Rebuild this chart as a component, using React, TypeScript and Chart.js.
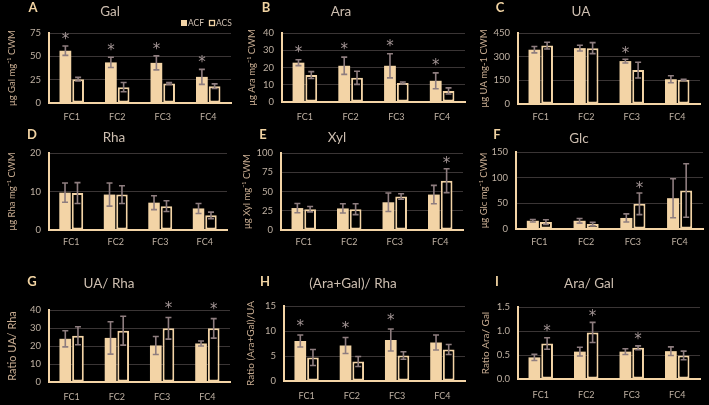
import React, { useEffect, useRef } from 'react';
import { Chart, registerables } from 'chart.js';

Chart.register(...registerables);

const FONT = 'Lato, "Open Sans", "DejaVu Sans", sans-serif';
Chart.defaults.font.family = FONT;

const BEIGE = '#F3D4A6';
const ERR = '#8E7D7F';
const STAR = '#A39595';
const TICK = '#BFB1A3';
const YTITLE = '#C9AD92';
const TITLE = '#CDBEB0';
const LETTER = '#F1D3A2';
const GRID = '#3A3535';

// ---------------- data ----------------
const categories = ['FC1', 'FC2', 'FC3', 'FC4'];
const seriesNames = ['ACF', 'ACS'];

// A  Gal
const galAcf = [56, 43.5, 43, 28];
const galAcfSd = [5, 5.5, 7.5, 8];
const galAcs = [25.5, 17, 21, 18];
const galAcsSd = [2, 5, 1, 2.5];
const galAcfStar = [true, true, true, true];
const galAcsStar = [false, false, false, false];
const galTicks = [0, 25, 50, 75];

// B  Ara
const araAcf = [22.8, 21, 21, 12.3];
const araAcfSd = [1.7, 5, 7, 4.6];
const araAcs = [15.6, 14, 11, 6.4];
const araAcsSd = [2, 3.8, 0.6, 1.8];
const araAcfStar = [true, true, true, true];
const araAcsStar = [false, false, false, false];
const araTicks = [0, 10, 20, 30, 40];

// C  UA
const uaAcf = [344, 354, 272, 157];
const uaAcfSd = [20, 18, 12, 22];
const uaAcs = [370, 354, 215, 153];
const uaAcsSd = [21, 35, 50, 4];
const uaAcfStar = [false, false, true, false];
const uaAcsStar = [false, false, false, false];
const uaTicks = [0, 150, 300, 450];

// D  Rha
const rhaAcf = [9.7, 9.2, 7.1, 5.6];
const rhaAcfSd = [2.5, 3, 1.8, 1.3];
const rhaAcs = [9.6, 9.2, 6.2, 3.8];
const rhaAcsSd = [2.7, 2.3, 1.4, 0.85];
const rhaAcfStar = [false, false, false, false];
const rhaAcsStar = [false, false, false, false];
const rhaTicks = [0, 10, 20];

// E  Xyl
const xylAcf = [28.5, 28, 36, 46];
const xylAcfSd = [6, 6, 12, 12];
const xylAcs = [27, 27, 43.5, 64];
const xylAcsSd = [3.5, 7, 3.5, 15.5];
const xylAcfStar = [false, false, false, false];
const xylAcsStar = [false, false, false, true];
const xylTicks = [0, 25, 50, 75, 100];

// F  Glc
const glcAcf = [16, 16, 21.5, 60];
const glcAcfSd = [2.5, 4.5, 8, 38];
const glcAcs = [13.5, 9.5, 49, 75];
const glcAcsSd = [4.5, 3.5, 21, 52];
const glcAcfStar = [false, false, false, false];
const glcAcsStar = [false, false, true, false];
const glcTicks = [0, 50, 100, 150];

// G  UA/Rha
const uaRhaAcf = [24, 24.5, 20.3, 21.4];
const uaRhaAcfSd = [4.5, 9, 5, 1.4];
const uaRhaAcs = [25.7, 28.5, 29.8, 29.8];
const uaRhaAcsSd = [5, 8, 6, 5.4];
const uaRhaAcfStar = [false, false, false, false];
const uaRhaAcsStar = [false, false, true, true];
const uaRhaTicks = [0, 10, 20, 30, 40];

// H  (Ara+Gal)/Rha
const agRhaAcf = [8, 7.1, 8.2, 7.7];
const agRhaAcfSd = [1.2, 1.6, 2.2, 1.5];
const agRhaAcs = [4.7, 3.9, 5.1, 6.3];
const agRhaAcsSd = [1.6, 1, 0.75, 1];
const agRhaAcfStar = [true, true, true, false];
const agRhaAcsStar = [false, false, false, false];
const agRhaTicks = [0, 5, 10, 15];

// I  Ara/Gal
const araGalAcf = [0.45, 0.57, 0.57, 0.58];
const araGalAcfSd = [0.065, 0.09, 0.06, 0.09];
const araGalAcs = [0.74, 0.97, 0.65, 0.49];
const araGalAcsSd = [0.12, 0.21, 0.04, 0.09];
const araGalAcfStar = [false, false, false, false];
const araGalAcsStar = [true, true, true, false];
const araGalTicks = [0, 0.5, 1.0, 1.5];

// ---------------- panel layout ----------------
type Rect = { x: number; y: number; w: number; h: number };
type Area = { l: number; t: number; r: number; b: number };
type PanelCfg = {
  letter: string;
  title: string;
  yTitle: string;
  acf: number[];
  acfSd: number[];
  acs: number[];
  acsSd: number[];
  acfStar: boolean[];
  acsStar: boolean[];
  ticks: number[];
  decimals: number;
  cell: Rect;
  area: Area;
  letterPos: [number, number];
  titlePos: [number, number];
  yTitleX: number;
  yTitleSize: number;
  xLabelY: number;
  starGap: number;
  legend?: boolean;
};

const panels: PanelCfg[] = [
  {
    letter: 'A', title: 'Gal', yTitle: 'μg Gal mg⁻¹ CWM',
    acf: galAcf, acfSd: galAcfSd, acs: galAcs, acsSd: galAcsSd, acfStar: galAcfStar, acsStar: galAcsStar,
    ticks: galTicks, decimals: 0,
    cell: { x: 0, y: 0, w: 236, h: 125 }, area: { l: 49, t: 33, r: 231, b: 103 },
    letterPos: [33, 8], titlePos: [110, 12], yTitleX: 12, yTitleSize: 9.5, xLabelY: 117, starGap: 10, legend: true,
  },
  {
    letter: 'B', title: 'Ara', yTitle: 'μg Ara mg⁻¹ CWM',
    acf: araAcf, acfSd: araAcfSd, acs: araAcs, acsSd: araAcsSd, acfStar: araAcfStar, acsStar: araAcsStar,
    ticks: araTicks, decimals: 0,
    cell: { x: 236, y: 0, w: 236, h: 125 }, area: { l: 282, t: 33, r: 465, b: 102 },
    letterPos: [266, 8], titlePos: [341, 12], yTitleX: 252, yTitleSize: 9.5, xLabelY: 117, starGap: 11,
  },
  {
    letter: 'C', title: 'UA', yTitle: 'μg UA mg-1 CWM',
    acf: uaAcf, acfSd: uaAcfSd, acs: uaAcs, acsSd: uaAcsSd, acfStar: uaAcfStar, acsStar: uaAcsStar,
    ticks: uaTicks, decimals: 0,
    cell: { x: 472, y: 0, w: 237, h: 125 }, area: { l: 518, t: 33, r: 700, b: 104 },
    letterPos: [500, 8], titlePos: [581, 12], yTitleX: 483.5, yTitleSize: 9.5, xLabelY: 117, starGap: 9,
  },
  {
    letter: 'D', title: 'Rha', yTitle: 'μg Rha mg⁻¹ CWM',
    acf: rhaAcf, acfSd: rhaAcfSd, acs: rhaAcs, acsSd: rhaAcsSd, acfStar: rhaAcfStar, acsStar: rhaAcsStar,
    ticks: rhaTicks, decimals: 0,
    cell: { x: 0, y: 125, w: 236, h: 130 }, area: { l: 49, t: 153, r: 227, b: 230 },
    letterPos: [32, 135], titlePos: [114, 138], yTitleX: 12, yTitleSize: 9.5, xLabelY: 242, starGap: 10,
  },
  {
    letter: 'E', title: 'Xyl', yTitle: 'μg Xyl mg⁻¹ CWM',
    acf: xylAcf, acfSd: xylAcfSd, acs: xylAcs, acsSd: xylAcsSd, acfStar: xylAcfStar, acsStar: xylAcsStar,
    ticks: xylTicks, decimals: 0,
    cell: { x: 236, y: 125, w: 236, h: 130 }, area: { l: 281, t: 153, r: 463, b: 230 },
    letterPos: [263, 135], titlePos: [337, 138], yTitleX: 246.5, yTitleSize: 9.5, xLabelY: 242, starGap: 8.5,
  },
  {
    letter: 'F', title: 'Glc', yTitle: 'μg Glc mg⁻¹ CWM',
    acf: glcAcf, acfSd: glcAcfSd, acs: glcAcs, acsSd: glcAcsSd, acfStar: glcAcfStar, acsStar: glcAcsStar,
    ticks: glcTicks, decimals: 0,
    cell: { x: 472, y: 125, w: 237, h: 130 }, area: { l: 516, t: 152, r: 703, b: 229 },
    letterPos: [497, 135], titlePos: [579, 139], yTitleX: 484, yTitleSize: 9.5, xLabelY: 242, starGap: 8.5,
  },
  {
    letter: 'G', title: 'UA/ Rha', yTitle: 'Ratio UA/ Rha',
    acf: uaRhaAcf, acfSd: uaRhaAcfSd, acs: uaRhaAcs, acsSd: uaRhaAcsSd, acfStar: uaRhaAcfStar, acsStar: uaRhaAcsStar,
    ticks: uaRhaTicks, decimals: 0,
    cell: { x: 0, y: 255, w: 236, h: 150 }, area: { l: 49, t: 310, r: 230, b: 382 },
    letterPos: [32, 282], titlePos: [109, 284], yTitleX: 12, yTitleSize: 11, xLabelY: 397, starGap: 12.5,
  },
  {
    letter: 'H', title: '(Ara+Gal)/ Rha', yTitle: 'Ratio (Ara+Gal)/UA',
    acf: agRhaAcf, acfSd: agRhaAcfSd, acs: agRhaAcs, acsSd: agRhaAcsSd, acfStar: agRhaAcfStar, acsStar: agRhaAcsStar,
    ticks: agRhaTicks, decimals: 0,
    cell: { x: 236, y: 255, w: 236, h: 150 }, area: { l: 284, t: 306, r: 465, b: 381 },
    letterPos: [265, 282], titlePos: [353, 284], yTitleX: 251, yTitleSize: 10, xLabelY: 396, starGap: 12.5,
  },
  {
    letter: 'I', title: 'Ara/ Gal', yTitle: 'Ratio Ara/ Gal',
    acf: araGalAcf, acfSd: araGalAcfSd, acs: araGalAcs, acsSd: araGalAcsSd, acfStar: araGalAcfStar, acsStar: araGalAcsStar,
    ticks: araGalTicks, decimals: 1,
    cell: { x: 472, y: 255, w: 237, h: 150 }, area: { l: 518, t: 307, r: 700, b: 379 },
    letterPos: [497, 282], titlePos: [589, 284], yTitleX: 486, yTitleSize: 10, xLabelY: 395, starGap: 9.5,
  },
];

// ---------------- plugins ----------------
const errorBarPlugin = {
  id: 'errorBars',
  afterDatasetsDraw(chart: any, _args: any, opts: any) {
    const ctx = chart.ctx as CanvasRenderingContext2D;
    const yScale = chart.scales.y;
    chart.data.datasets.forEach((ds: any, i: number) => {
      const meta = chart.getDatasetMeta(i);
      meta.data.forEach((bar: any, j: number) => {
        const v = ds.data[j];
        const e = ds.sd[j];
        const x = bar.x;
        const yt = yScale.getPixelForValue(v + e);
        const yb = yScale.getPixelForValue(v - e);
        ctx.save();
        ctx.strokeStyle = ERR;
        ctx.lineWidth = 1.6;
        ctx.beginPath();
        ctx.moveTo(x, yt);
        ctx.lineTo(x, yb);
        ctx.moveTo(x - 3, yt);
        ctx.lineTo(x + 3, yt);
        ctx.moveTo(x - 3, yb);
        ctx.lineTo(x + 3, yb);
        ctx.stroke();
        if (ds.stars[j]) {
          ctx.fillStyle = STAR;
          ctx.font = '15px "DejaVu Sans", sans-serif';
          ctx.textAlign = 'center';
          ctx.textBaseline = 'alphabetic';
          const m = ctx.measureText('*');
          const cy = yt - (opts.gap || 10);
          const dy = (m.actualBoundingBoxAscent - m.actualBoundingBoxDescent) / 2;
          ctx.fillText('*', x, cy + dy);
        }
        ctx.restore();
      });
    });
  },
};

const decorPlugin = {
  id: 'decor',
  afterDraw(chart: any, _args: any, opts: any) {
    const ctx = chart.ctx as CanvasRenderingContext2D;
    const ox = opts.ox, oy = opts.oy;
    ctx.save();
    ctx.textBaseline = 'middle';
    ctx.textAlign = 'center';
    ctx.fillStyle = LETTER;
    ctx.font = `bold 13px ${FONT}`;
    ctx.fillText(opts.letter, opts.letterPos[0] - ox, opts.letterPos[1] - oy);
    ctx.fillStyle = TITLE;
    ctx.font = `13.5px ${FONT}`;
    ctx.fillText(opts.title, opts.titlePos[0] - ox, opts.titlePos[1] - oy);
    if (opts.legend) {
      ctx.font = `8.5px ${FONT}`;
      ctx.textAlign = 'left';
      ctx.fillStyle = BEIGE;
      ctx.fillRect(181 - ox, 20 - oy, 6, 6);
      ctx.fillStyle = TITLE;
      ctx.fillText(seriesNames[0], 188 - ox, 23.5 - oy);
      ctx.strokeStyle = BEIGE;
      ctx.lineWidth = 1.3;
      ctx.strokeRect(209.5 - ox, 20.5 - oy, 5, 5);
      ctx.fillText(seriesNames[1], 216 - ox, 23.5 - oy);
    }
    ctx.restore();
  },
};

// ---------------- components ----------------
function Panel({ cfg }: { cfg: PanelCfg }) {
  const ref = useRef<HTMLCanvasElement>(null);
  const W = cfg.cell.w;
  const H = cfg.cell.h;
  useEffect(() => {
    const L = cfg.area.l - cfg.cell.x;
    const T = cfg.area.t - cfg.cell.y;
    const R = cfg.cell.x + W - cfg.area.r;
    const B = cfg.cell.y + H - cfg.area.b;
    const ticks = cfg.ticks;
    const max = ticks[ticks.length - 1];
    const step = ticks[1] - ticks[0];
    const yTitleLine = cfg.yTitleSize * 1.2;
    const yTitlePad = cfg.yTitleX - cfg.cell.x - yTitleLine / 2;
    const xPad = cfg.xLabelY - cfg.area.b - 5.4;
    const chart = new Chart(ref.current as HTMLCanvasElement, {
      type: 'bar',
      data: {
        labels: categories,
        datasets: [
          {
            label: seriesNames[0],
            data: cfg.acf,
            backgroundColor: BEIGE,
            borderWidth: 0,
            sd: cfg.acfSd,
            stars: cfg.acfStar,
          } as any,
          {
            label: seriesNames[1],
            data: cfg.acs,
            backgroundColor: '#000000',
            borderColor: BEIGE,
            borderWidth: 2,
            borderSkipped: false,
            sd: cfg.acsSd,
            stars: cfg.acsStar,
          } as any,
        ],
      },
      options: {
        responsive: false,
        animation: false,
        devicePixelRatio: 1,
        layout: { padding: { left: 0, top: T, right: R, bottom: 0 } },
        datasets: { bar: { categoryPercentage: 0.56, barPercentage: 0.92 } },
        plugins: {
          legend: { display: false },
          tooltip: { enabled: false },
          title: { display: false },
          errorBars: { gap: cfg.starGap },
          decor: {
            ox: cfg.cell.x,
            oy: cfg.cell.y,
            letter: cfg.letter,
            title: cfg.title,
            letterPos: cfg.letterPos,
            titlePos: cfg.titlePos,
            legend: !!cfg.legend,
          },
        } as any,
        scales: {
          x: {
            grid: { display: false, drawTicks: false },
            border: { display: true, color: BEIGE, width: 2 },
            ticks: { color: TICK, font: { size: 9 }, padding: xPad },
            afterFit: (s: any) => {
              s.height = B;
            },
          },
          y: {
            min: 0,
            max,
            ticks: {
              stepSize: step,
              color: TICK,
              font: { size: 9.5 },
              padding: 8,
              callback: (v: any) => Number(v).toFixed(cfg.decimals),
            },
            grid: {
              color: (c: any) => (c.tick && c.tick.value === 0 ? 'rgba(0,0,0,0)' : GRID),
              drawTicks: false,
              lineWidth: 1,
            },
            border: { display: true, color: BEIGE, width: 2 },
            title: {
              display: true,
              text: cfg.yTitle,
              color: YTITLE,
              font: { size: cfg.yTitleSize },
              padding: { top: yTitlePad, bottom: 0 },
            },
            afterFit: (s: any) => {
              s.width = L;
            },
          },
        },
      } as any,
      plugins: [errorBarPlugin, decorPlugin],
    });
    return () => chart.destroy();
  }, []);
  return (
    <canvas
      ref={ref}
      width={W}
      height={H}
      style={{ position: 'absolute', left: cfg.cell.x, top: cfg.cell.y, width: W, height: H }}
    />
  );
}

export default function App() {
  return (
    <div
      style={{
        position: 'fixed',
        left: 0,
        top: 0,
        width: 709,
        height: 405,
        background: '#000000',
        overflow: 'hidden',
      }}
    >
      {panels.map((p) => (
        <Panel key={p.letter} cfg={p} />
      ))}
    </div>
  );
}
